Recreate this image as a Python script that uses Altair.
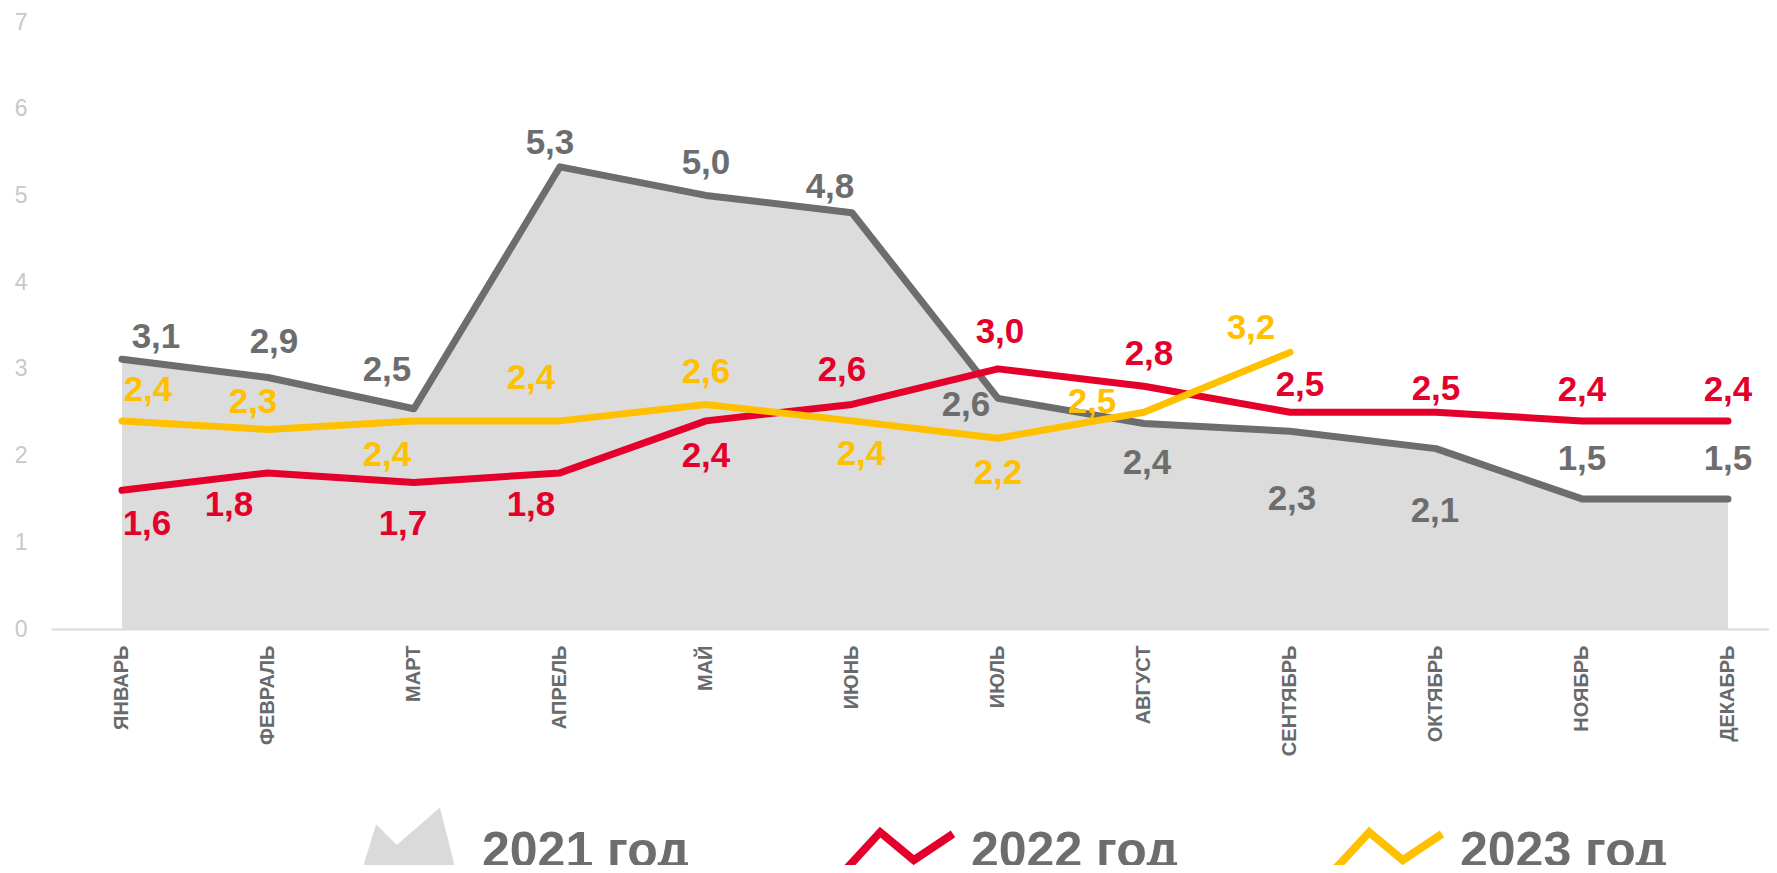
import json
import altair as alt
import pandas as pd

# ---------------- data ----------------
months = ["ЯНВАРЬ", "ФЕВРАЛЬ", "МАРТ", "АПРЕЛЬ", "МАЙ", "ИЮНЬ",
          "ИЮЛЬ", "АВГУСТ", "СЕНТЯБРЬ", "ОКТЯБРЬ", "НОЯБРЬ", "ДЕКАБРЬ"]
series_names = ["2021 год", "2022 год", "2023 год"]

values_2021 = [3.11, 2.90, 2.54, 5.33, 5.00, 4.80, 2.66, 2.37, 2.28, 2.08, 1.50, 1.50]
labels_2021 = ["3,1", "2,9", "2,5", "5,3", "5,0", "4,8", "2,6", "2,4", "2,3", "2,1", "1,5", "1,5"]

values_2022 = [1.60, 1.80, 1.69, 1.80, 2.40, 2.59, 3.00, 2.80, 2.50, 2.50, 2.40, 2.40]
labels_2022 = ["1,6", "1,8", "1,7", "1,8", "2,4", "2,6", "3,0", "2,8", "2,5", "2,5", "2,4", "2,4"]

values_2023 = [2.40, 2.30, 2.40, 2.40, 2.59, 2.40, 2.20, 2.50, 3.19]
labels_2023 = ["2,4", "2,3", "2,4", "2,4", "2,6", "2,4", "2,2", "2,5", "3,2"]

# ---------------- styles / layout ----------------
colors = ["#6d6d6d", "#e4002b", "#ffc000"]
area_color = "#dcdcdc"
legend_fill = ["#dadada", "transparent", "transparent"]
legend_stroke = ["transparent", "#e4002b", "#ffc000"]
FONT = "Liberation Sans"

PLOT_W, PLOT_H = 1718, 607
PAD = {"left": 43, "top": 14, "right": 0, "bottom": 236}
X_DOMAIN = [-0.486, 11.281]
Y_DOMAIN = [0, 7]
PX_X = PLOT_W / (X_DOMAIN[1] - X_DOMAIN[0])
PX_Y = PLOT_H / (Y_DOMAIN[1] - Y_DOMAIN[0])

# label placement offsets in pixels (dx, dy) relative to each point
label_offsets = {
    "2021 год": [(34, -22), (6, -36), (-27, -39), (-10, -24), (0, -32), (-22, -26),
                 (-32, 7), (3, 40), (2, 68), (-1, 62), (0, -40), (0, -40)],
    "2022 год": [(25, 34), (-39, 32), (-11, 42), (-29, 32), (0, 35), (-10, -34),
                 (2, -37), (5, -32), (10, -27), (0, -23), (0, -31), (0, -31)],
    "2023 год": [(26, -31), (-15, -28), (-27, 34), (-29, -43), (0, -32), (9, 33),
                 (0, 35), (-52, -10), (-39, -24)],
}

rows = []
for name, vals, labs in zip(series_names,
                            [values_2021, values_2022, values_2023],
                            [labels_2021, labels_2022, labels_2023]):
    for i, (v, lab) in enumerate(zip(vals, labs)):
        dx, dy = label_offsets[name][i]
        rows.append({"year": name, "idx": i, "value": v, "label": lab,
                     "lx": i + dx / PX_X, "ly": v - dy / PX_Y})
df = pd.DataFrame(rows)

month_expr = json.dumps(months, ensure_ascii=False) + "[datum.value]"

x_scale = alt.Scale(domain=X_DOMAIN, nice=False, zero=False)
y_scale = alt.Scale(domain=Y_DOMAIN, nice=False, zero=False)
x_axis = alt.Axis(values=list(range(12)), labelExpr=month_expr, labelAngle=270,
                  ticks=False, grid=False, domainColor="#d9d9d9", domainWidth=2,
                  labelFont=FONT, labelFontSize=20, labelFontWeight="bold",
                  labelColor="#6a6a6a", labelPadding=16, title=None)
y_axis = alt.Axis(values=list(range(8)), ticks=False, domain=False, grid=False,
                  labelFont=FONT, labelFontSize=23, labelColor="#c8c8c8",
                  labelPadding=24, title=None)

# legend symbol shapes; the lone move-to points give every symbol the same
# vertical extent so that the legend entries line up
MOUNTAIN = "M0,-0.8 M0,0.9 M-1,0.9 L-0.57,-0.5 L-0.2,-0.13 L0.57,-0.8 L1,0.9 Z"
ZIGZAG = "M0,-0.8 M0,0.9 M-1,0.4 L-0.3,-0.36 L0.3,0.14 L1,-0.33"


def make_legend():
    return alt.Legend(
        orient="none", legendX=297, legendY=770, direction="horizontal", title=None,
        padding=0, symbolSize=12544, symbolStrokeWidth=8, symbolOpacity=1,
        labelFont=FONT, labelFontSize=50, labelFontWeight="bold", labelColor="#6d6d6d",
        labelOffset=14, columnPadding=136, labelLimit=1000,
    )


# colour scale for the data marks (domain order reversed so that it is not
# merged with the legend-only scales below)
color_enc = alt.Color("year:N", scale=alt.Scale(domain=series_names[::-1], range=colors[::-1]), legend=None)

base = alt.Chart(df)

area = base.transform_filter(alt.datum.year == series_names[0]).mark_area(color=area_color).encode(
    x=alt.X("idx:Q", scale=x_scale, axis=x_axis),
    y=alt.Y("value:Q", scale=y_scale, axis=y_axis),
)

lines = base.mark_line(strokeWidth=7, strokeCap="round", strokeJoin="round").encode(
    x=alt.X("idx:Q", scale=x_scale, axis=x_axis),
    y=alt.Y("value:Q", scale=y_scale, axis=y_axis),
    color=color_enc,
    detail="year:N",
)

texts = base.mark_text(font=FONT, fontSize=35, fontWeight="bold", align="center", baseline="middle").encode(
    x=alt.X("lx:Q", scale=x_scale, axis=x_axis),
    y=alt.Y("ly:Q", scale=y_scale, axis=y_axis),
    text="label:N",
    color=color_enc,
)

# legend-only layer (its points are invisible)
legend_layer = base.mark_point(filled=True, opacity=0).encode(
    x=alt.X("idx:Q", scale=x_scale, axis=x_axis),
    y=alt.Y("value:Q", scale=y_scale, axis=y_axis),
    fill=alt.Fill("year:N", scale=alt.Scale(domain=series_names, range=legend_fill), legend=make_legend()),
    stroke=alt.Stroke("year:N", scale=alt.Scale(domain=series_names, range=legend_stroke), legend=make_legend()),
    shape=alt.Shape("year:N", scale=alt.Scale(domain=series_names, range=[MOUNTAIN, ZIGZAG, ZIGZAG]), legend=make_legend()),
)

chart = alt.layer(area, lines, texts, legend_layer).properties(
    width=PLOT_W, height=PLOT_H, padding=PAD,
    autosize=alt.AutoSizeParams(type="none"),
).configure_view(stroke=None)

chart.save("out.html", embed_options={"renderer": "svg", "actions": False})
